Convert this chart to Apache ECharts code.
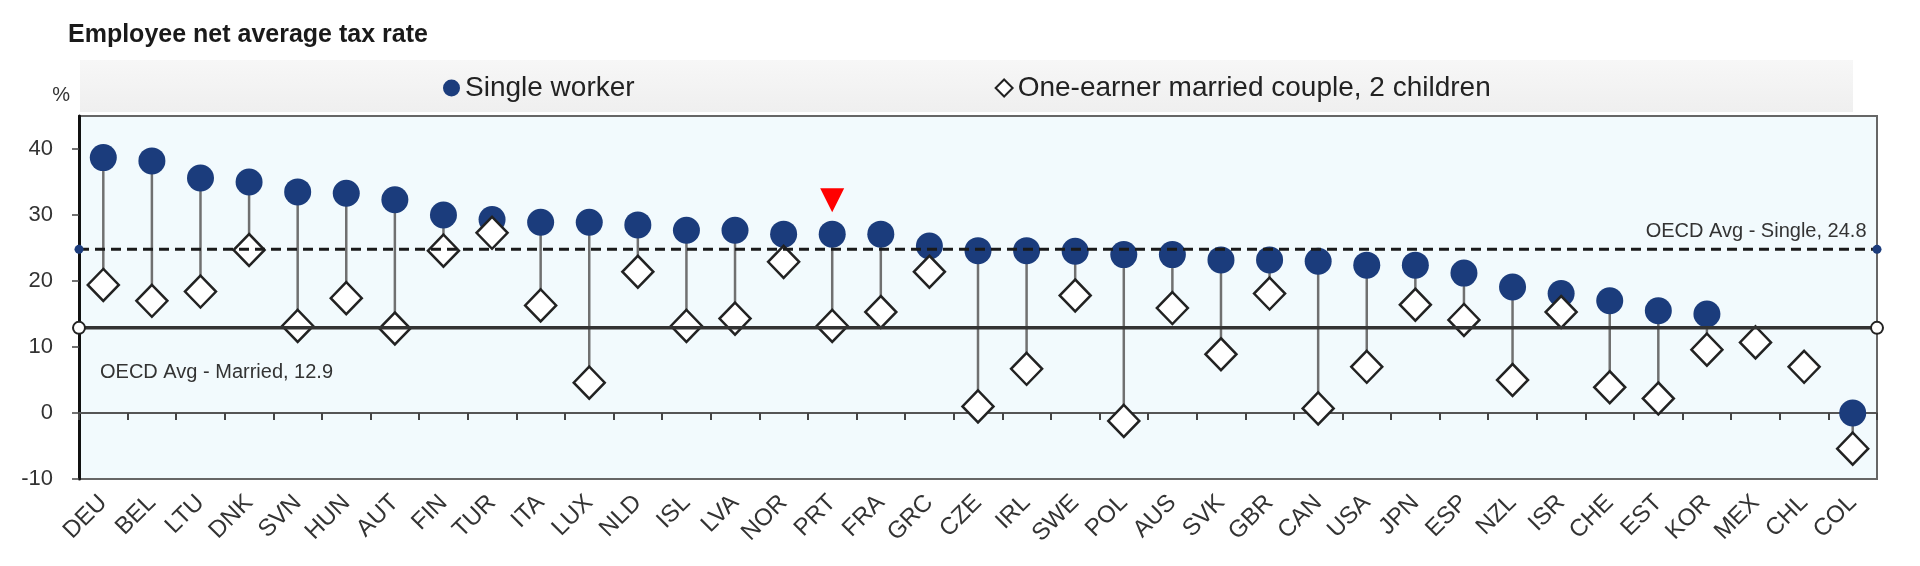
<!DOCTYPE html>
<html><head><meta charset="utf-8">
<script src="https://cdn.jsdelivr.net/npm/echarts@6/dist/echarts.min.js"></script>
<style>html,body{margin:0;padding:0;background:#fff}#c{width:1920px;height:566px}</style>
</head><body><div id="c"></div>
<script>
const countries = ['DEU','BEL','LTU','DNK','SVN','HUN','AUT','FIN','TUR','ITA','LUX','NLD','ISL','LVA','NOR','PRT','FRA','GRC','CZE','IRL','SWE','POL','AUS','SVK','GBR','CAN','USA','JPN','ESP','NZL','ISR','CHE','EST','KOR','MEX','CHL','COL'];
const singleWorker = [38.7,38.2,35.6,35.0,33.5,33.3,32.3,30.0,29.3,28.9,28.9,28.5,27.7,27.7,27.1,27.1,27.1,25.3,24.6,24.6,24.5,24.0,24.0,23.2,23.2,23.0,22.4,22.4,21.2,19.1,18.1,17.0,15.5,15.0,10.7,7.0,0.0];
const marriedCouple = [19.4,17.0,18.4,24.7,13.2,17.4,12.8,24.6,27.3,16.3,4.6,21.4,13.2,14.3,22.9,13.2,15.3,21.4,1.0,6.7,17.8,-1.2,15.9,8.9,18.1,0.7,7.0,16.4,14.1,5.0,15.3,3.9,2.2,9.6,10.7,7.0,-5.4];
const avgSingle = 24.8;
const avgMarried = 12.9;
const highlighted = 'PRT';
const yMin = -10, yMax = 45, yStep = 10;
const seriesNames = ['Single worker', 'One-earner married couple, 2 children'];

const FONT = "'Liberation Sans', Arial, sans-serif";
const navy = '#1b3c7c';
const hiIdx = countries.indexOf(highlighted);

const chart = echarts.init(document.getElementById('c'), null, {renderer: 'canvas'});
chart.setOption({
  animation: false,
  textStyle: {fontFamily: FONT},
  title: {
    text: 'Employee net average tax rate', left: 63, top: 18,
    textStyle: {fontSize: 25, fontWeight: 'bold', color: '#1a1a1a', fontFamily: FONT}
  },
  graphic: [{
    type: 'rect', left: 80, top: 60, z: -1,
    shape: {width: 1773, height: 52},
    style: {fill: new echarts.graphic.LinearGradient(0, 0, 0, 1, [
      {offset: 0, color: '#f7f7f7'}, {offset: 1, color: '#efefef'}])}
  }],
  legend: {
    data: [{name: seriesNames[0], icon: 'circle'}, {name: seriesNames[1], icon: 'diamond'}],
    left: 438, top: 68, itemWidth: 17, itemHeight: 17, itemGap: 360,
    selectedMode: false,
    textStyle: {fontSize: 28, color: '#222', fontFamily: FONT, lineHeight: 30}
  },
  grid: {
    left: 79, top: 116, width: 1798, height: 363, show: true,
    backgroundColor: '#f2fafd', borderColor: '#666', borderWidth: 2
  },
  xAxis: [
    {
      type: 'category', data: countries, position: 'bottom',
      axisLine: {show: false, onZero: false}, axisTick: {show: false},
      axisLabel: {rotate: 45, interval: 0, fontSize: 24, color: '#333', margin: 20, fontFamily: FONT},
      splitLine: {show: false}
    },
    {
      type: 'category', data: countries, position: 'top',
      axisLine: {show: true, onZero: true, lineStyle: {color: '#555', width: 2}},
      axisTick: {show: true, inside: true, interval: 0, length: 7, lineStyle: {color: '#444', width: 2}},
      axisLabel: {show: false}, splitLine: {show: false}
    },
    {type: 'value', min: 0, max: 1, show: false}
  ],
  yAxis: {
    type: 'value', min: yMin, max: yMax, interval: yStep,
    axisLine: {show: true, onZero: false, lineStyle: {color: '#111', width: 3}},
    axisTick: {show: true, length: 7, lineStyle: {color: '#444', width: 1.5}},
    axisLabel: {fontSize: 22, color: '#333', margin: 26, showMaxLabel: false, fontFamily: FONT},
    splitLine: {show: false},
    name: '%', nameLocation: 'end', nameGap: 11,
    nameTextStyle: {fontSize: 20, color: '#333', align: 'right', padding: [0, 9, 0, 0], fontFamily: FONT}
  },
  series: [
    {
      type: 'custom', xAxisIndex: 0, yAxisIndex: 0, z: 1, silent: true,
      data: countries.map((c, i) => [i, singleWorker[i], marriedCouple[i]]),
      encode: {x: 0, y: [1, 2]},
      renderItem: function (params, api) {
        const a = api.coord([api.value(0), api.value(1)]);
        const b = api.coord([api.value(0), api.value(2)]);
        return {type: 'line', shape: {x1: a[0], y1: a[1], x2: b[0], y2: b[1]},
                style: {stroke: '#707070', lineWidth: 2.5}};
      }
    },
    {
      name: seriesNames[0], type: 'scatter', xAxisIndex: 0, z: 2, silent: true,
      symbol: 'circle', symbolSize: 27,
      itemStyle: {color: navy, opacity: 1},
      data: countries.map((c, i) => ({
        value: [c, singleWorker[i]],
        itemStyle: singleWorker[i] === marriedCouple[i] ? {opacity: 0} : undefined
      }))
    },
    {
      name: seriesNames[1], type: 'scatter', xAxisIndex: 0, z: 3, silent: true,
      symbol: 'diamond', symbolSize: [31, 32],
      itemStyle: {color: '#ffffff', borderColor: '#222', borderWidth: 2.5, opacity: 1},
      data: countries.map((c, i) => [c, marriedCouple[i]])
    },
    {
      type: 'line', xAxisIndex: 2, z: 5, silent: true, clip: false,
      symbol: 'circle', symbolSize: 9, showSymbol: true,
      itemStyle: {color: navy},
      lineStyle: {color: '#1a1a1a', width: 3, type: [10, 6]},
      data: [
        {value: [0, avgSingle]},
        {value: [1, avgSingle], label: {
          show: true, position: 'left', distance: 6, offset: [0, -18],
          formatter: 'OECD Avg - Single, ' + avgSingle, fontSize: 20, color: '#333', fontFamily: FONT}}
      ]
    },
    {
      type: 'line', xAxisIndex: 2, z: 5, silent: true, clip: false,
      symbol: 'circle', symbolSize: 12, showSymbol: true,
      itemStyle: {color: '#ffffff', borderColor: '#222', borderWidth: 2},
      lineStyle: {color: '#333', width: 3.5, type: 'solid'},
      data: [
        {value: [0, avgMarried], label: {
          show: true, position: 'right', distance: 14, offset: [0, 45],
          formatter: 'OECD Avg - Married, ' + avgMarried, fontSize: 20, color: '#333', fontFamily: FONT}},
        {value: [1, avgMarried]}
      ]
    },
    {
      type: 'scatter', xAxisIndex: 0, z: 6, silent: true,
      symbol: 'triangle', symbolRotate: 180, symbolSize: [24, 24], symbolOffset: [0, -34],
      itemStyle: {color: '#ff0000', opacity: 1},
      data: [[highlighted, singleWorker[hiIdx]]]
    }
  ]
});
</script></body></html>
